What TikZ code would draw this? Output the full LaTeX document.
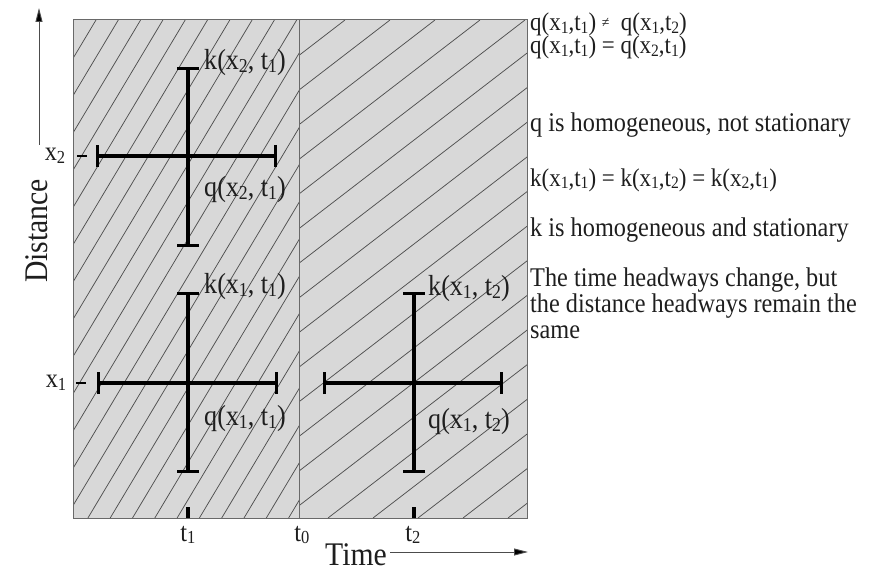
\documentclass[tikz,border=0pt]{standalone}
\usepackage{fontspec}
\usepackage{graphicx}
\setmainfont{Liberation Serif}
\newfontfamily\narrowser[FakeStretch=0.9]{Liberation Serif}
\usetikzlibrary{arrows.meta}
\newcommand{\sbs}[1]{\raisebox{-0.22ex}{\scalebox{0.68}{#1}}}
\definecolor{panelgray}{RGB}{216,216,216}
\definecolor{hatchgray}{RGB}{80,80,80}
\definecolor{bordergray}{RGB}{105,105,105}
\definecolor{labelc}{RGB}{30,30,30}
\begin{document}
\begin{tikzpicture}[x=1pt,y=-1pt,
  hatch/.style={draw=hatchgray,line width=0.75pt},
  border/.style={draw=bordergray,line width=1pt},
  bar/.style={line width=3.2pt,black,{Bar[width=22pt]}-{Bar[width=22pt]}},
  tickmark/.style={line width=3.2pt,black},
  lbl/.style={inner sep=0pt,anchor=west,font=\narrowser\fontsize{29}{31}\selectfont,text=labelc},
  note/.style={inner sep=0pt,anchor=west,font=\narrowser\fontsize{27}{29}\selectfont,text=labelc},
  eqn/.style={inner sep=0pt,anchor=west,font=\narrowser\fontsize{25.5}{27}\selectfont,text=labelc},
  axlbl/.style={inner sep=0pt,font=\narrowser\fontsize{27}{29}\selectfont,text=labelc},
  axarrow/.style={line width=0.9pt,draw=black!70,-{Triangle[length=14pt,width=7pt,fill=black]}},
]
\useasboundingbox (0,0) rectangle (889,572);
% panels
\fill[panelgray] (73,20) rectangle (527,518);
\begin{scope}
  \clip (73,20) rectangle (299,518);
  \foreach \k in {-1,...,23} \draw[hatch] ({96+22.3*\k-298},518) -- ({96+22.3*\k},20);
\end{scope}
\begin{scope}
  \clip (299,20) rectangle (527,518);
  \foreach \k in {-2,...,19} \draw[hatch] ({345+45*\k-647},518) -- ({345+45*\k},20);
\end{scope}
\draw[border] (73,20) rectangle (527,518);
\draw[border] (299,20) -- (299,518);

% crosses
\coordinate (v1t) at (188,67);  \coordinate (v1b) at (188,247);
\coordinate (h1l) at (96,156);  \coordinate (h1r) at (277,156);
\coordinate (v2t) at (188,292); \coordinate (v2b) at (188,473);
\coordinate (h2l) at (97,383);  \coordinate (h2r) at (278,383);
\coordinate (v3t) at (414,292); \coordinate (v3b) at (414,473);
\coordinate (h3l) at (323,383); \coordinate (h3r) at (503,383);
\draw[bar] (v1t) -- (v1b);
\draw[bar] (h1l) -- (h1r);
\draw[bar] (v2t) -- (v2b);
\draw[bar] (h2l) -- (h2r);
\draw[bar] (v3t) -- (v3b);
\draw[bar] (h3l) -- (h3r);

\node[lbl] (k21) at (204,63) {k(x\sbs{2}, t\sbs{1})};
\node[lbl] (q21) at (204,190) {q(x\sbs{2}, t\sbs{1})};
\node[lbl] (k11) at (204,287) {k(x\sbs{1}, t\sbs{1})};
\node[lbl] (q11) at (204,419) {q(x\sbs{1}, t\sbs{1})};
\node[lbl] (k12) at (428,289) {k(x\sbs{1}, t\sbs{2})};
\node[lbl] (q12) at (428,422) {q(x\sbs{1}, t\sbs{2})};

% axis ticks and labels
\coordinate (d2a) at (77,156); \coordinate (d2b) at (87,156);
\coordinate (d1a) at (76,383); \coordinate (d1b) at (86,383);
\draw[line width=2pt,black] (d2a) -- (d2b);
\draw[line width=2pt,black] (d1a) -- (d1b);
\node[axlbl] (x2) at (55,156) {x\sbs{2}};
\node[axlbl] (x1) at (56,383) {x\sbs{1}};
\coordinate (tk1a) at (188,507); \coordinate (tk1b) at (188,518);
\coordinate (tk2a) at (414,507); \coordinate (tk2b) at (414,518);
\draw[tickmark] (tk1a) -- (tk1b);
\draw[tickmark] (tk2a) -- (tk2b);
\node[axlbl] (t1) at (188,535) {t\sbs{1}};
\node[axlbl] (t0) at (302,535) {t\sbs{0}};
\node[axlbl] (t2) at (413,535) {t\sbs{2}};

\node[inner sep=0pt,rotate=90,font=\narrowser\fontsize{33}{35}\selectfont,text=labelc] (dist) at (37,231) {Distance};
\coordinate (da) at (39,145); \coordinate (db) at (39,8);
\draw[axarrow] (da) -- (db);
\node[inner sep=0pt,font=\narrowser\fontsize{33}{35}\selectfont,text=labelc] (time) at (356,555) {Time};
\coordinate (ta) at (390,552); \coordinate (tb) at (528,552);
\draw[axarrow] (ta) -- (tb);

% notes
\node[eqn] (e1) at (530,24.5) {q(x\sbs{1},t\sbs{1}) \raisebox{0.3ex}{\scalebox{0.6}{≠}}\ \ q(x\sbs{1},t\sbs{2})};
\node[eqn] (e2) at (530,47.5) {q(x\sbs{1},t\sbs{1}) = q(x\sbs{2},t\sbs{1})};
\node[note] (n1) at (530,125) {q is homogeneous, not stationary};
\node[eqn] (e3) at (530,180) {k(x\sbs{1},t\sbs{1}) = k(x\sbs{1},t\sbs{2}) = k(x\sbs{2},t\sbs{1})};
\node[note] (n2) at (530,230) {k is homogeneous and stationary};
\node[note] (n3) at (530,280) {The time headways change, but};
\node[note] (n4) at (530,306) {the distance headways remain the};
\node[note] (n5) at (530,332) {same};
\end{tikzpicture}
\end{document}
